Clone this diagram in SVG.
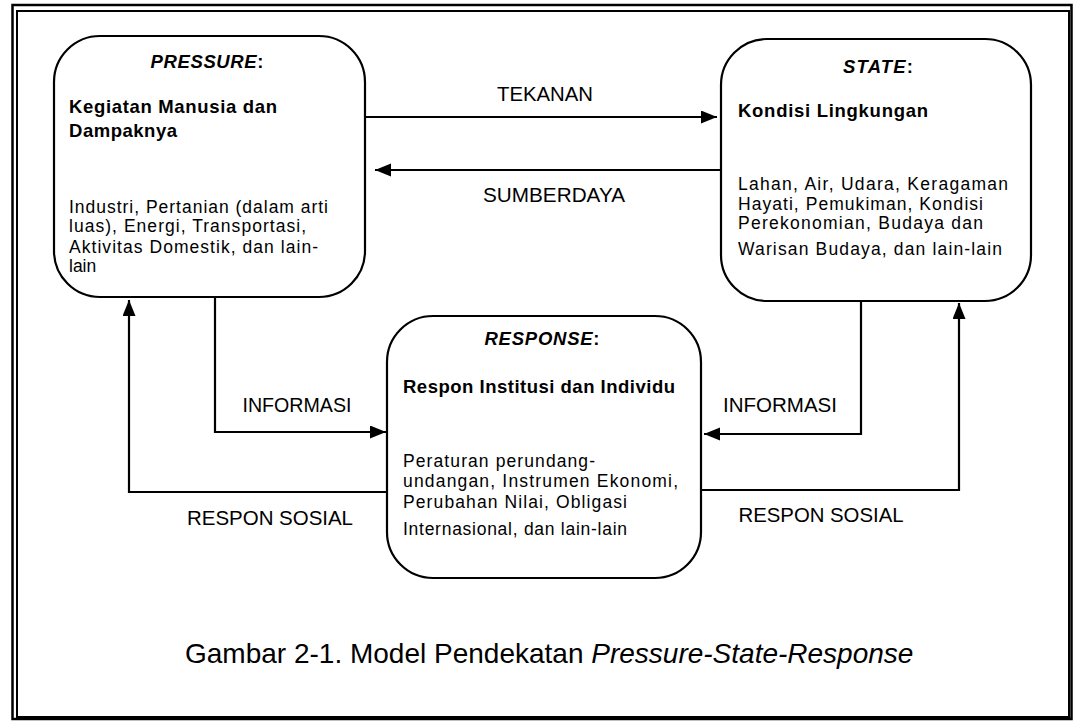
<svg xmlns="http://www.w3.org/2000/svg" width="1074" height="721" viewBox="0 0 1074 721">
<defs>
<style>
text{font-family:"Liberation Sans",Arial,Helvetica,sans-serif;fill:#000}
.box{fill:#fff;stroke:#000;stroke-width:2.2}
.frame{fill:none;stroke:#000}
.hd{font-size:18.5px;font-weight:bold;font-style:italic;text-anchor:middle}
.sub{font-size:18.5px;font-weight:bold}
.body{font-size:17.5px}
.lbl{font-size:21px;text-anchor:middle}
.cap{font-size:28px}
.con{fill:none;stroke:#000;stroke-width:2.2}
</style>
<marker id="ah" markerUnits="userSpaceOnUse" markerWidth="17" markerHeight="14" refX="16" refY="6.5" orient="auto">
<path d="M0,0 L16,6.5 L0,13 z" fill="#000"/>
</marker>
</defs>
<rect width="1074" height="721" fill="#fff"/>
<g id="frame">
<rect class="frame" x="12.5" y="5" width="1059" height="714" stroke-width="2.5"/>
<rect class="frame" x="17" y="11" width="1052" height="706" stroke-width="2"/>
</g>
<g id="connectors">
<path class="con" d="M365,117 H717" marker-end="url(#ah)"/>
<path class="con" d="M721,170 H375" marker-end="url(#ah)"/>
<path class="con" d="M215,297 V432 H386" marker-end="url(#ah)"/>
<path class="con" d="M387,492 H129 V300" marker-end="url(#ah)"/>
<path class="con" d="M861,301 V434 H704" marker-end="url(#ah)"/>
<path class="con" d="M701,490 H959 V303" marker-end="url(#ah)"/>
<text class="lbl" x="545" y="101" textLength="96" lengthAdjust="spacingAndGlyphs">TEKANAN</text>
<text class="lbl" x="554" y="202" textLength="142" lengthAdjust="spacingAndGlyphs">SUMBERDAYA</text>
<text class="lbl" x="297" y="412" textLength="109" lengthAdjust="spacingAndGlyphs">INFORMASI</text>
<text class="lbl" x="780" y="412" textLength="114" lengthAdjust="spacingAndGlyphs">INFORMASI</text>
<text class="lbl" x="270" y="525" textLength="166" lengthAdjust="spacingAndGlyphs">RESPON SOSIAL</text>
<text class="lbl" x="821" y="522" textLength="165" lengthAdjust="spacingAndGlyphs">RESPON SOSIAL</text>
</g>
<g id="pressure">
<rect class="box" x="54" y="36" width="311" height="261" rx="46" ry="46"/>
<text class="hd" x="207" y="68" textLength="113"><tspan>PRESSURE</tspan><tspan font-style="normal">:</tspan></text>
<text class="sub" x="69" y="113" textLength="208">Kegiatan Manusia dan</text>
<text class="sub" x="69" y="137" textLength="108">Dampaknya</text>
<text class="body" x="69" y="213" textLength="259">Industri, Pertanian (dalam arti</text>
<text class="body" x="69" y="232" textLength="237">luas), Energi, Transportasi,</text>
<text class="body" x="69" y="253" textLength="249">Aktivitas Domestik, dan lain-</text>
<text class="body" x="69" y="272">lain</text>
</g>
<g id="state">
<rect class="box" x="721" y="39" width="310" height="262" rx="46" ry="46"/>
<text class="hd" x="878" y="73" textLength="70"><tspan>STATE</tspan><tspan font-style="normal">:</tspan></text>
<text class="sub" x="738" y="117" textLength="190">Kondisi Lingkungan</text>
<text class="body" x="738" y="190" textLength="270">Lahan, Air, Udara, Keragaman</text>
<text class="body" x="738" y="210" textLength="245">Hayati, Pemukiman, Kondisi</text>
<text class="body" x="738" y="229" textLength="245">Perekonomian, Budaya dan</text>
<text class="body" x="738" y="255" textLength="264">Warisan Budaya, dan lain-lain</text>
</g>
<g id="response">
<rect class="box" x="387" y="316" width="314" height="262" rx="46" ry="46"/>
<text class="hd" x="542" y="345" textLength="115"><tspan>RESPONSE</tspan><tspan font-style="normal">:</tspan></text>
<text class="sub" x="403" y="393" textLength="272">Respon Institusi dan Individu</text>
<text class="body" x="403" y="467" textLength="192">Peraturan perundang-</text>
<text class="body" x="403" y="487" textLength="275">undangan, Instrumen Ekonomi,</text>
<text class="body" x="403" y="508" textLength="224">Perubahan Nilai, Obligasi</text>
<text class="body" x="403" y="535" textLength="224">Internasional, dan lain-lain</text>
</g>
<g id="caption">
<text class="cap" x="185" y="663">Gambar 2-1. Model Pendekatan <tspan font-style="italic">Pressure-State-Response</tspan></text>
</g>
</svg>
